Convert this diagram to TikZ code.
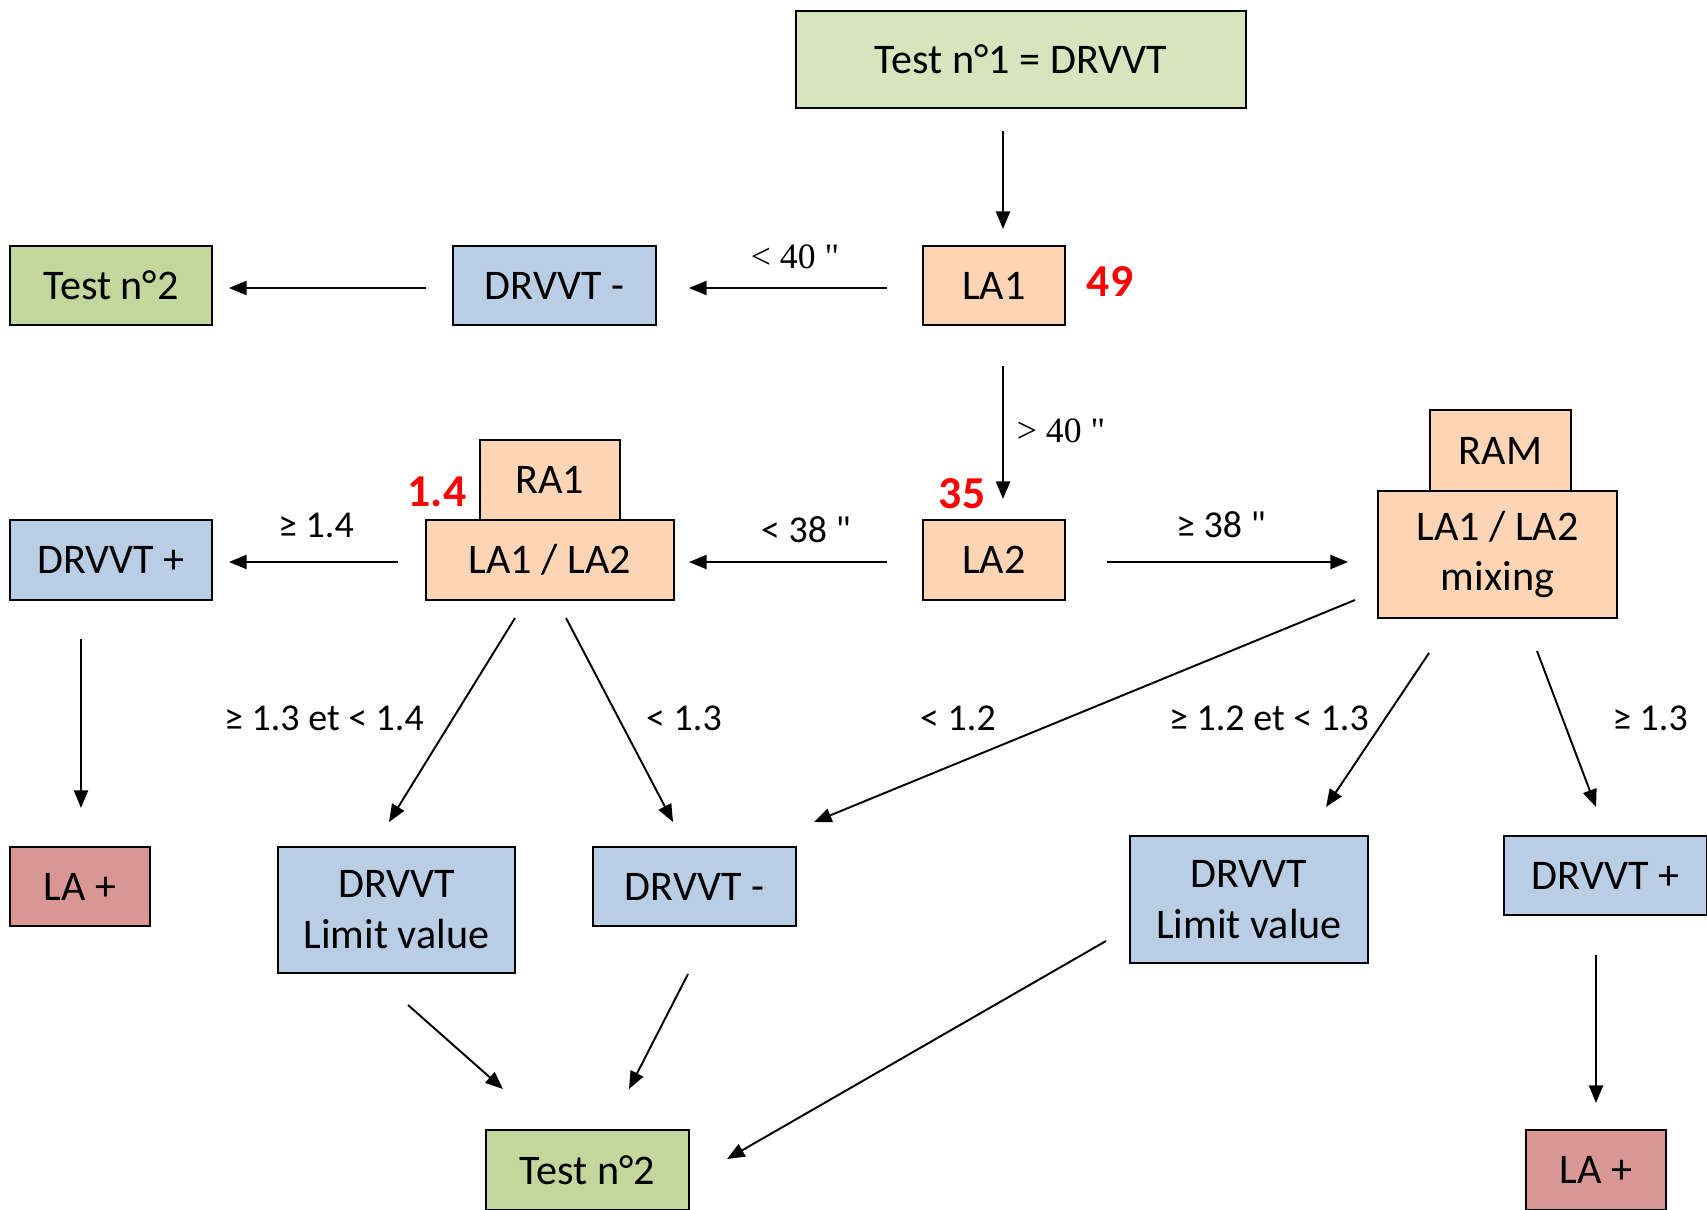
\documentclass[tikz,border=0pt]{standalone}
\usepackage{fontspec}
\setmainfont{Carlito}
\newfontfamily\timesf{Liberation Serif}
\newfontfamily\carlq{Carlito}
\usetikzlibrary{arrows.meta,calc}
\definecolor{gone}{HTML}{D7E4BD}
\definecolor{gtwo}{HTML}{C3D69B}
\definecolor{bluec}{HTML}{B9CDE5}
\definecolor{orangec}{HTML}{FBD5B5}
\definecolor{redc}{HTML}{D99694}
\definecolor{rednum}{HTML}{FF0000}
\newcommand{\dq}{{\carlq\symbol{34}}}
\newcommand{\tdq}{\symbol{34}}
\tikzset{
  box/.style={draw=black, line width=1.1pt, inner sep=0pt, align=center,
    font=\fontsize{24}{29}\selectfont, text=black},
  gbox/.style={box, fill=gone},
  g2box/.style={box, fill=gtwo},
  bbox/.style={box, fill=bluec},
  obox/.style={box, fill=orangec},
  rbox/.style={box, fill=redc},
  lbl/.style={inner sep=0pt, font=\fontsize{21.6}{26}\selectfont},
  tlbl/.style={inner sep=0pt, font=\timesf\fontsize{20.3}{24}\selectfont},
  num/.style={inner sep=0pt, text=rednum, font=\fontsize{26}{30}\selectfont\bfseries},
  arr/.style={line width=1.1pt, -{Triangle[length=10pt,width=8pt]}},
}
\begin{document}
\begin{tikzpicture}[x=0.02cm,y=-0.02cm]
\useasboundingbox (0,0) rectangle (1707,1210);
\begin{scope}
\clip (0,0) rectangle (1707,1210);
% nodes
\node[gbox, minimum width=9.0cm, minimum height=1.94cm] (test1) at (1021,59.5) {Test n°1 = DRVVT};
\node[obox, minimum width=2.84cm, minimum height=1.58cm] (la1) at (994,285.5) {LA1};
\node[g2box, minimum width=4.04cm, minimum height=1.58cm] (test2a) at (111,285.5) {Test n°2};
\node[bbox, minimum width=4.06cm, minimum height=1.58cm] (drvm1) at (554.5,285.5) {DRVVT -};
\node[obox, minimum width=2.84cm, minimum height=1.6cm] (la2) at (994,560) {LA2};
\node[obox, minimum width=2.8cm, minimum height=1.6cm] (ra1) at (550,480) {RA1};
\node[obox, minimum width=4.96cm, minimum height=1.6cm] (lala) at (550,560) {LA1 / LA2};
\node[bbox, minimum width=4.04cm, minimum height=1.6cm] (drvp1) at (111,560) {DRVVT +};
\node[obox, minimum width=2.82cm, minimum height=1.62cm] (ram) at (1500.5,450.5) {RAM};
\node[obox, minimum width=4.78cm, minimum height=2.54cm] (mix) at (1497.5,554.5) {LA1 / LA2\\mixing};
\node[rbox, minimum width=2.8cm, minimum height=1.58cm] (lap1) at (80,886.5) {LA +};
\node[bbox, minimum width=4.74cm, minimum height=2.52cm] (lim1) at (396.5,910) {DRVVT\\Limit value};
\node[bbox, minimum width=4.06cm, minimum height=1.58cm] (drvm2) at (694.5,886.5) {DRVVT -};
\node[bbox, minimum width=4.76cm, minimum height=2.54cm] (lim2) at (1249,899.5) {DRVVT\\Limit value};
\node[bbox, minimum width=4.06cm, minimum height=1.58cm] (drvp2) at (1605.5,875.5) {DRVVT +};
\node[rbox, minimum width=2.8cm, minimum height=1.6cm] (lap2) at (1596,1170) {LA +};
\node[g2box, minimum width=4.06cm, minimum height=1.6cm] (test2b) at (587.5,1170) {Test n°2};
\end{scope}
% red numbers
\node[num] (n49) at (1110,282) {49};
\node[num] (n35) at (962,494) {35};
\node[num] (n14) at (437,492) {1.4};
% labels
\node[tlbl] (l40a) at (795,257) {< 40 \tdq};
\node[tlbl] (l40b) at (1061,431) {> 40 \tdq};
\node[lbl] (l38a) at (806,530) {< 38 \dq};
\node[lbl] (l38b) at (1221,525) {≥ 38 \dq};
\node[lbl] (l14) at (316,525) {≥ 1.4};
\node[lbl] (l1314) at (324,718) {≥ 1.3 et < 1.4};
\node[lbl] (l13a) at (684,718) {< 1.3};
\node[lbl] (l12) at (958,718) {< 1.2};
\node[lbl] (l1213) at (1269,718) {≥ 1.2 et < 1.3};
\node[lbl] (l13b) at (1650,718) {≥ 1.3};
% connector end points
\coordinate (a1s) at (1003,131); \coordinate (a1e) at (1003,229);
\coordinate (h1s) at (887,288);  \coordinate (h1e) at (689,288);
\coordinate (h2s) at (426,288);  \coordinate (h2e) at (229,288);
\coordinate (a2s) at (1003,366); \coordinate (a2e) at (1003,499);
\coordinate (h3s) at (887,562);  \coordinate (h3e) at (689,562);
\coordinate (h4s) at (398,562);  \coordinate (h4e) at (229,562);
\coordinate (a3s) at (1107,562); \coordinate (a3e) at (1348,562);
\coordinate (a4s) at (81,639);   \coordinate (a4e) at (81,808);
\coordinate (a5s) at (515,618);  \coordinate (a5e) at (389,822);
\coordinate (a6s) at (566,618);  \coordinate (a6e) at (673,822);
\coordinate (a7s) at (1355,600); \coordinate (a7e) at (814,822);
\coordinate (a8s) at (1429,653); \coordinate (a8e) at (1326,807);
\coordinate (a9s) at (1537,651); \coordinate (a9e) at (1596,807);
\coordinate (b1s) at (1596,955); \coordinate (b1e) at (1596,1103);
\coordinate (b2s) at (408,1005); \coordinate (b2e) at (503,1089);
\coordinate (b3s) at (688,974);  \coordinate (b3e) at (629,1089);
\coordinate (b4s) at (1106,941); \coordinate (b4e) at (727,1159);
% connectors
\draw[arr] (a1s) -- (a1e);
\draw[arr] (h1s) -- (h1e);
\draw[arr] (h2s) -- (h2e);
\draw[arr] (a2s) -- (a2e);
\draw[arr] (h3s) -- (h3e);
\draw[arr] (h4s) -- (h4e);
\draw[arr] (a3s) -- (a3e);
\draw[arr] (a4s) -- (a4e);
\draw[arr] (a5s) -- (a5e);
\draw[arr] (a6s) -- (a6e);
\draw[arr] (a7s) -- (a7e);
\draw[arr] (a8s) -- (a8e);
\draw[arr] (a9s) -- (a9e);
\draw[arr] (b1s) -- (b1e);
\draw[arr] (b2s) -- (b2e);
\draw[arr] (b3s) -- (b3e);
\draw[arr] (b4s) -- (b4e);
\end{tikzpicture}
\end{document}
